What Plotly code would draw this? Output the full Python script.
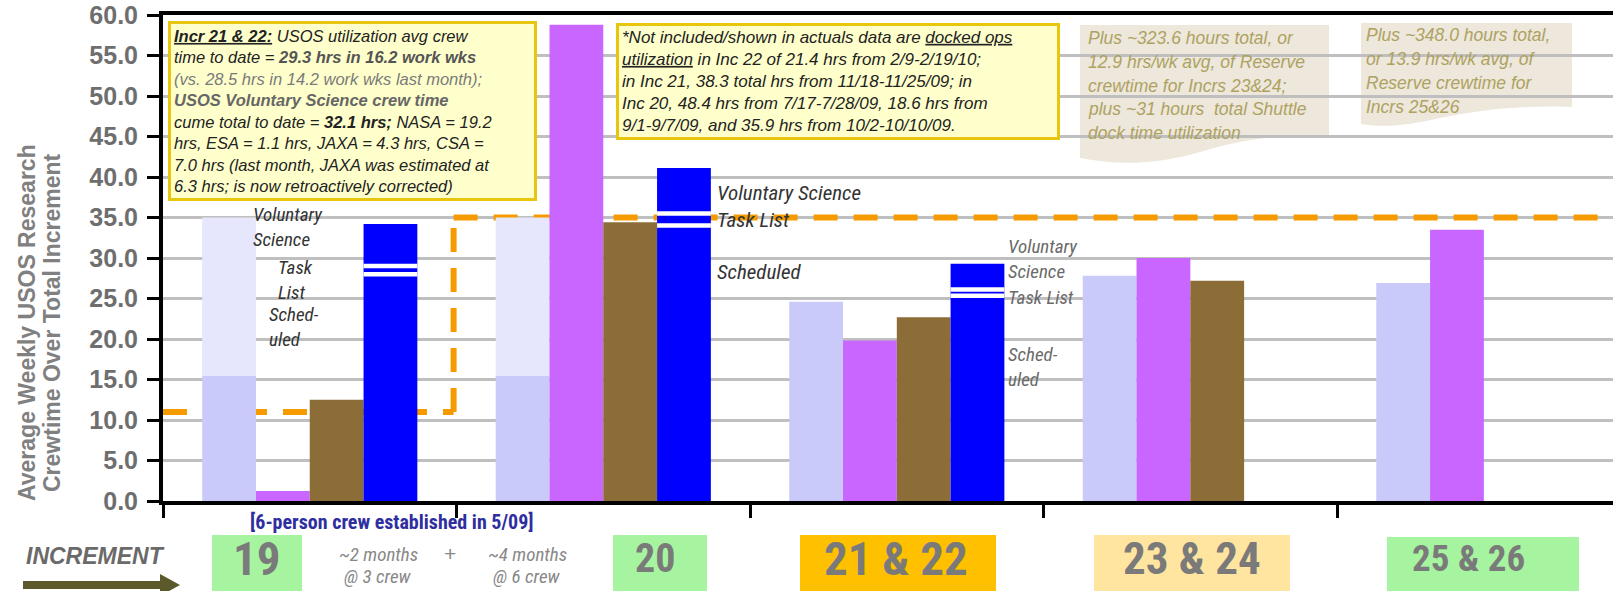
import plotly.graph_objects as go

# =====================================================
# Datos
# =====================================================
increments = ["19", "20", "21 & 22", "23 & 24", "25 & 26"]
planned_lower = [15.5, 15.5, 24.6, 27.8, 26.9]
planned_top = [35.0, 35.0, None, None, None]
purple_vals = [1.25, 58.8, 19.8, 30.0, 33.5]
brown_vals = [12.5, 34.4, 22.7, 27.2, None]
blue_vals = [34.2, 41.1, 29.3, None, None]
stripe_hi = [29.0, 35.5, 26.1, None, None]
stripe_lo = [28.0, 34.0, 25.35, None, None]
target_x = [-0.5, 0.49, 0.49, 4.5]
target_y = [11.0, 11.0, 35.0, 35.0]
y_ticks = [0, 5, 10, 15, 20, 25, 30, 35, 40, 45, 50, 55, 60]

FONT = "Liberation Sans, Arial, sans-serif"
NARROW = "Roboto Condensed, Liberation Sans Narrow, Arial Narrow, Liberation Sans, sans-serif"

# marco en pixeles
L, W, T, H = 163, 1450, 15, 486
B = T + H


def px(x):
    return (x - L) / W


def py(y):
    return (B - y) / H


def path_of(points):
    s = "M " + " L ".join(f"{px(x):.5f},{py(y):.5f}" for x, y in points)
    return s + " Z"


fig = go.Figure()


def add_bar(y, color, group, base=None):
    fig.add_trace(go.Bar(
        x=increments, y=y, base=base, offsetgroup=group,
        marker=dict(color=color, line=dict(width=0)),
        hoverinfo="skip", showlegend=False
    ))


# === Barras ===
add_bar(planned_lower, "#CACAFA", "a")
add_bar([None if t is None else t - b for t, b in zip(planned_top, planned_lower)],
        "#E6E6FC", "a", base=planned_lower)
add_bar(purple_vals, "#C966FF", "b")
add_bar(brown_vals, "#8C6D38", "c")
add_bar(blue_vals, "#0000FF", "d")
sw = 0.55
for s in (stripe_hi, stripe_lo):
    add_bar([None if v is None else sw for v in s], "#FFFFFF", "d",
            base=[None if v is None else v - sw / 2 for v in s])

shapes = []
# === Línea naranja discontinua ===
for i in range(len(target_x) - 1):
    shapes.append(dict(type="line", xref="x", yref="y", layer="between",
                       x0=target_x[i], y0=target_y[i], x1=target_x[i + 1], y1=target_y[i + 1],
                       line=dict(color="#F59B00", width=6, dash="24px,16px")))

# === Notas color tostado ===
tan = "#EDE7DC"
shapes.append(dict(type="path", xref="paper", yref="paper", layer="below", fillcolor=tan,
                   line=dict(width=0),
                   path=f"M {px(1080)},{py(25)} L {px(1329)},{py(25)} L {px(1329)},{py(137)} "
                        f"C {px(1280)},{py(133)} {px(1240)},{py(140)} {px(1200)},{py(152)} "
                        f"C {px(1160)},{py(164)} {px(1120)},{py(166)} {px(1080)},{py(158)} Z"))
shapes.append(dict(type="path", xref="paper", yref="paper", layer="below", fillcolor=tan,
                   line=dict(width=0),
                   path=f"M {px(1361)},{py(23)} L {px(1572)},{py(23)} L {px(1572)},{py(107)} "
                        f"C {px(1520)},{py(105)} {px(1480)},{py(110)} {px(1440)},{py(118)} "
                        f"C {px(1410)},{py(125)} {px(1385)},{py(128)} {px(1361)},{py(124)} Z"))

# === Cajas de incremento (abajo) ===
boxes = [(212, 302, 535, "#A6F4A0"), (613, 707, 535, "#A6F4A0"), (800, 996, 535, "#FFC000"),
         (1094, 1290, 535, "#FFE59F"), (1387, 1579, 537, "#A6F4A0")]
for x0, x1, y0, c in boxes:
    shapes.append(dict(type="rect", xref="paper", yref="paper", layer="above",
                       x0=px(x0), x1=px(x1), y0=py(y0), y1=py(595),
                       fillcolor=c, line=dict(width=0)))

# flecha
shapes.append(dict(type="path", xref="paper", yref="paper", layer="above",
                   fillcolor="#5C5A2C", line=dict(width=0),
                   path=path_of([(23, 581), (160, 581), (160, 574), (180, 585),
                                 (160, 596), (160, 589), (23, 589)])))

annotations = []


def label(x, y, text, size=17, color="#333333", xanchor="left", yanchor="middle",
          family=FONT, italic=True, bold=False, **kw):
    annotations.append(dict(
        x=px(x), y=py(y), xref="paper", yref="paper", text=text, showarrow=False,
        xanchor=xanchor, yanchor=yanchor,
        font=dict(size=size, color=color, family=family,
                  style="italic" if italic else "normal",
                  weight="bold" if bold else "normal"),
        **kw))


# caja izquierda
left_text = (
    "<b><u>Incr 21 &amp; 22:</u></b> USOS utilization avg crew<br>"
    "time to date = <b><span style='color:#555555'>29.3 hrs in 16.2 work wks</span></b><br>"
    "<span style='color:#7A7A7A'>(vs. 28.5 hrs in 14.2 work wks last month);</span><br>"
    "<b><span style='color:#666666'>USOS Voluntary Science crew time</span></b><br>"
    "cume total to date = <b>32.1 hrs;</b> NASA = 19.2<br>"
    "hrs, ESA = 1.1 hrs, JAXA = 4.3 hrs, CSA =<br>"
    "7.0 hrs (last month, JAXA was estimated at<br>"
    "6.3 hrs; is now retroactively corrected)"
)
label(168, 21, left_text, size=16.5, color="#222222", yanchor="top", align="left",
      bgcolor="#FFFFCC", bordercolor="#E8C610", borderwidth=3, borderpad=3,
      width=357, height=168, valign="middle")

mid_text = (
    "*Not included/shown in actuals data are <u>docked ops</u><br>"
    "<u>utilization</u> in Inc 22 of 21.4 hrs from 2/9-2/19/10;<br>"
    "in Inc 21, 38.3 total hrs from 11/18-11/25/09; in<br>"
    "Inc 20, 48.4 hrs from 7/17-7/28/09, 18.6 hrs from<br>"
    "9/1-9/7/09, and 35.9 hrs from 10/2-10/10/09."
)
label(616, 23, mid_text, size=17, color="#222222", yanchor="top", align="left",
      bgcolor="#FFFFCC", bordercolor="#E8C610", borderwidth=3, borderpad=3,
      width=432, height=105, valign="middle")

tan_color = "#ADA25F"
tan1 = ["Plus ~323.6 hours total, or", "12.9 hrs/wk avg, of Reserve",
        "crewtime for Incrs 23&amp;24;", "plus ~31 hours  total Shuttle",
        "dock time utilization"]
for i, t in enumerate(tan1):
    label(1086, 38 + i * 23.8, t, size=17.5, color=tan_color)
tan2 = ["Plus ~348.0 hours total,", "or 13.9 hrs/wk avg, of",
        "Reserve crewtime for", "Incrs 25&amp;26"]
for i, t in enumerate(tan2):
    label(1364, 35 + i * 24.0, t, size=17.5, color=tan_color)

# etiquetas junto a las barras azules
for x, y, t in [(252, 227, "Voluntary<br>Science"), (277, 280, "Task<br>List"),
                (268, 327, "Sched-<br>uled")]:
    label(x, y, t, size=19, color="#333333", family=NARROW, align="left",
          borderpad=0)
for x, y, t in [(715, 193, "Voluntary Science"), (715, 220, "Task List"),
                (715, 272, "Scheduled")]:
    label(x, y, t, size=21, color="#333333", family=NARROW)
for x, y, t in [(1007, 259, "Voluntary<br>Science"), (1007, 297, "Task List"),
                (1007, 367, "Sched-<br>uled")]:
    label(x, y, t, size=19, color="#6A6A6A", family=NARROW, align="left",
          borderpad=0)

# título eje y
label(27, 323, "Average Weekly USOS Research", size=23, color="#808080",
      xanchor="center", italic=False, bold=True, textangle=-90)
label(52, 323, "Crewtime Over Total Increment", size=23, color="#808080",
      xanchor="center", italic=False, bold=True, textangle=-90)

# parte inferior
label(392, 522, "[6-person crew established in 5/09]", size=20, color="#2E2EA0",
      xanchor="center", family=NARROW, italic=False, bold=True)
label(95, 556, "INCREMENT", size=23, color="#6A6A6A", xanchor="center", bold=True)
for x, t, s in [(257, "19", 47), (655, "20", 40), (896, "21 &amp; 22", 47),
                (1192, "23 &amp; 24", 45), (1468, "25 &amp; 26", 37)]:
    label(x, 558, t, size=s, color="#7A7A7A", xanchor="center", family=NARROW,
          italic=False, bold=True)
label(378, 554, "~2 months", size=19, color="#888888", xanchor="center", family=NARROW)
label(378, 576, "@ 3 crew", size=19, color="#888888", xanchor="center", family=NARROW)
label(450, 553, "+", size=21, color="#888888", xanchor="center", italic=False)
label(527, 554, "~4 months", size=19, color="#888888", xanchor="center", family=NARROW)
label(527, 576, "@ 6 crew", size=19, color="#888888", xanchor="center", family=NARROW)

# === Ejes y estilo ===
fig.update_layout(
    width=1613, height=591,
    margin=dict(l=L, r=0, t=T, b=591 - B),
    plot_bgcolor="white", paper_bgcolor="white",
    barmode="group", bargap=0.267, bargroupgap=0,
    showlegend=False,
    font=dict(family=FONT),
    shapes=shapes,
    annotations=annotations,
    xaxis=dict(
        type="category", categoryorder="array", categoryarray=increments,
        range=[-0.5, 4.44], showline=True, linecolor="black", linewidth=4, mirror=True,
        ticks="outside", tickson="boundaries", ticklen=13, tickwidth=3, tickcolor="black",
        showticklabels=False, showgrid=False, zeroline=False, fixedrange=True
    ),
    yaxis=dict(
        range=[0, 60], tickvals=y_ticks, tickformat=".1f",
        showgrid=True, gridcolor="#BFBFBF", gridwidth=3, zeroline=False,
        showline=True, linecolor="black", linewidth=4,
        ticks="outside", ticklen=12, tickwidth=3, tickcolor="black",
        ticklabelstandoff=4,
        tickfont=dict(size=25, color="#6E6E6E", family=FONT, weight="bold"),
        fixedrange=True
    ),
)

fig.write_html("out.html", config={"displayModeBar": False},
               post_script="document.body.style.margin='0';document.body.style.overflow='hidden';")
